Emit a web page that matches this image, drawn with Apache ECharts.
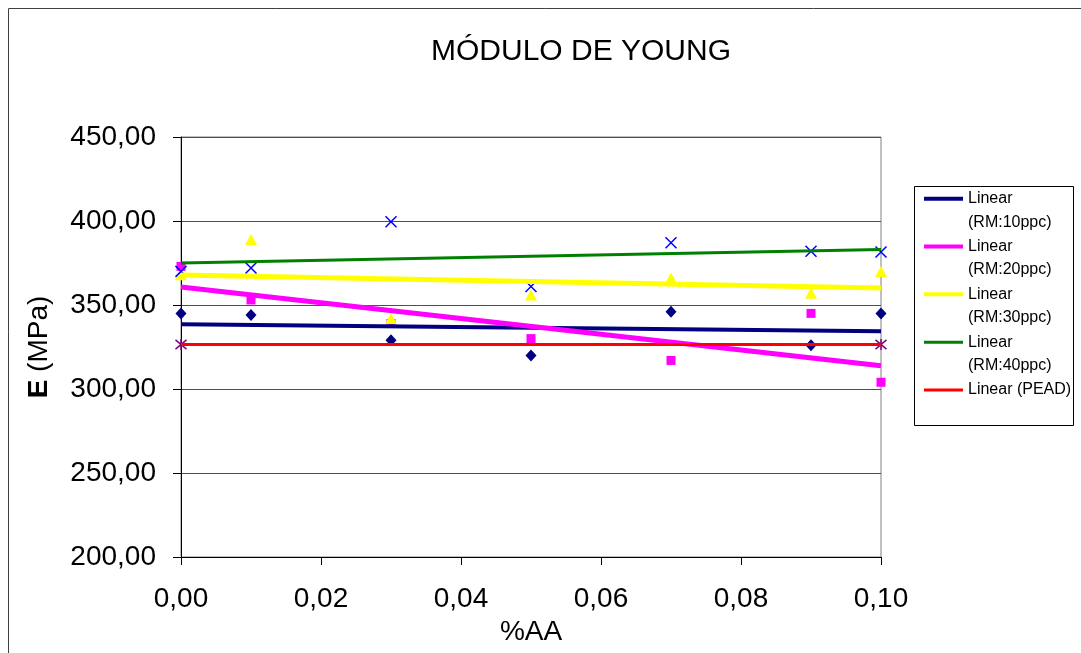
<!DOCTYPE html>
<html>
<head>
<meta charset="utf-8">
<script src="https://cdn.jsdelivr.net/npm/echarts@6/dist/echarts.min.js"></script>
<style>
html,body{margin:0;padding:0;background:#fff;}
#chart{width:1081px;height:653px;}
</style>
</head>
<body>
<div id="chart"></div>
<script>
// ---- data ----
const xValues = [0, 0.01, 0.03, 0.05, 0.07, 0.09, 0.10];
const rm10 = [345, 344, 329, 320, 346, 326, 345];
const rm20 = [373, 353, 339, 330, 317, 345, 304];
const rm30 = [368, 389, 342, 356, 366, 357, 370];
const rm40 = [370, 372, 399.5, 361, 387, 382, 381.5];
const peadX = [0, 0.10];
const pead = [326.5, 326.5];
const seriesNames = ['RM:10ppc', 'RM:20ppc', 'RM:30ppc', 'RM:40ppc', 'PEAD'];
const titleText = 'MÓDULO DE YOUNG';
const xName = '%AA';

// least-squares trend line (Excel "Linear" trendline) computed from the data
function trend(xs, ys) {
  const n = xs.length;
  const mx = xs.reduce((a, b) => a + b, 0) / n;
  const my = ys.reduce((a, b) => a + b, 0) / n;
  let sxy = 0, sxx = 0;
  for (let i = 0; i < n; i++) { sxy += (xs[i] - mx) * (ys[i] - my); sxx += (xs[i] - mx) ** 2; }
  const b = sxx ? sxy / sxx : 0;
  const x0 = Math.min(...xs), x1 = Math.max(...xs);
  return [[x0, my + b * (x0 - mx)], [x1, my + b * (x1 - mx)]];
}
function pts(xs, ys) { return xs.map((x, i) => [x, ys[i]]); }
const fmt = v => v.toFixed(2).replace('.', ',');

const FONT = "'Liberation Sans', Arial, sans-serif";
const groups = [
  { name: seriesNames[0], xs: xValues, ys: rm10, symbol: 'diamond', size: [11, 12], mColor: '#000080', lColor: '#000080', lw: 4 },
  { name: seriesNames[1], xs: xValues, ys: rm20, symbol: 'rect', size: 9, mColor: '#FF00FF', lColor: '#FF00FF', lw: 5 },
  { name: seriesNames[2], xs: xValues, ys: rm30, symbol: 'triangle', size: [12, 11], mColor: '#FFFF00', lColor: '#FFFF00', lw: 5 },
  { name: seriesNames[3], xs: xValues, ys: rm40, symbol: 'path://M0,0L10,10M10,0L0,10', size: 11, mColor: '#0000FF', lColor: '#008000', lw: 3, stroke: true },
  { name: seriesNames[4], xs: peadX, ys: pead, symbol: 'path://M0,0L10,10M10,0L0,10M5,-1L5,11', size: 11, mColor: '#800080', lColor: '#FF0000', lw: 3, stroke: true }
];

const series = [];
groups.forEach(g => {
  series.push({
    type: 'scatter', name: g.name, data: pts(g.xs, g.ys), symbol: g.symbol, symbolSize: g.size, z: 2,
    itemStyle: g.stroke ? { color: 'rgba(0,0,0,0)', borderColor: g.mColor, borderWidth: 1.5, opacity: 1 } : { color: g.mColor, opacity: 1 },
    emphasis: { disabled: true }, silent: true
  });
});
groups.forEach(g => {
  series.push({
    type: 'line', name: 'Linear (' + g.name + ')', data: trend(g.xs, g.ys), showSymbol: false, symbol: 'none', z: 3,
    lineStyle: { color: g.lColor, width: g.lw }, itemStyle: { color: g.lColor }, silent: true
  });
});

const legendData = groups.map((g, i) => ({
  name: 'Linear (' + g.name + ')',
  icon: i < 3 ? 'rect' : 'path://M0,0H39V3H0Z',
  itemStyle: { color: g.lColor }
}));

const chart = echarts.init(document.getElementById('chart'), null, { renderer: 'canvas' });
chart.setOption({
  animation: false,
  backgroundColor: '#ffffff',
  textStyle: { fontFamily: FONT, color: '#000' },
  title: {
    text: titleText, left: 426, top: 32,
    textStyle: { fontFamily: FONT, fontSize: 30, fontWeight: 'normal', color: '#000' }
  },
  grid: { left: 181, right: 200, top: 137, bottom: 96, show: true, borderColor: '#808080', borderWidth: 1, backgroundColor: '#fff' },
  legend: {
    orient: 'vertical', left: 924, top: 163.5, padding: 0, itemGap: -22.7,
    itemWidth: 39, itemHeight: 4,
    data: legendData,
    formatter: n => {
      const m = n.match(/^Linear \((RM:\d+ppc)\)$/);
      return m ? '\nLinear\n(' + m[1] + ')' : '\n' + n + '\n';
    },
    textStyle: { fontFamily: FONT, fontSize: 16, color: '#000', lineHeight: 23.5 }
  },
  xAxis: {
    type: 'value', min: 0, max: 0.1, interval: 0.02,
    name: xName, nameLocation: 'middle', nameGap: 58,
    nameTextStyle: { fontFamily: FONT, fontSize: 28, color: '#000' },
    axisLine: { show: true, onZero: false, lineStyle: { color: '#000', width: 1 } },
    axisTick: { show: true, inside: false, length: 8, lineStyle: { color: '#000' } },
    axisLabel: { margin: 28, fontFamily: FONT, fontSize: 28, color: '#000', formatter: fmt },
    splitLine: { show: false }
  },
  yAxis: {
    type: 'value', min: 200, max: 450, interval: 50,
    name: '{b|E} (MPa)', nameLocation: 'middle', nameGap: 128,
    nameTextStyle: { fontFamily: FONT, fontSize: 28, color: '#000', rich: { b: { fontFamily: FONT, fontSize: 28, fontWeight: 'bold', color: '#000' } } },
    axisLine: { show: true, lineStyle: { color: '#000', width: 1 } },
    axisTick: { show: true, inside: false, length: 8, lineStyle: { color: '#000' } },
    axisLabel: { margin: 25, fontFamily: FONT, fontSize: 28, color: '#000', formatter: fmt },
    splitLine: { show: true, lineStyle: { color: '#505050', width: 1 } }
  },
  graphic: [
    { type: 'rect', silent: true, z: -1, shape: { x: 8.5, y: 8.5, width: 1090, height: 700 }, style: { fill: 'none', stroke: '#404040', lineWidth: 1 } },
    { type: 'rect', silent: true, shape: { x: 914.5, y: 186.5, width: 159, height: 239 }, style: { fill: 'none', stroke: '#000', lineWidth: 1 } }
  ],
  series: series
});
</script>
</body>
</html>
